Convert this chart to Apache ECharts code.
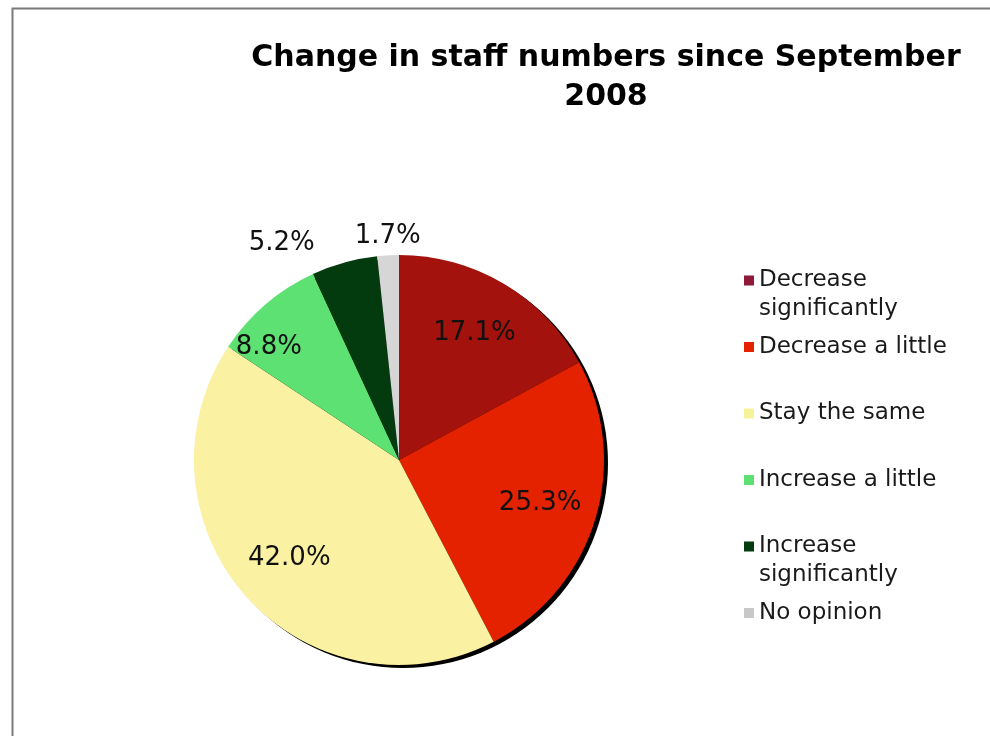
<!DOCTYPE html>
<html>
<head>
<meta charset="utf-8">
<title>Change in staff numbers since September 2008</title>
<script src="https://cdn.jsdelivr.net/npm/echarts@6/dist/echarts.min.js"></script>
<style>
	html, body { margin: 0; padding: 0; background: #fff; }
	#chart { width: 990px; height: 736px; }
</style>
</head>
<body>
<div id="chart"></div>
<script>
// 数据
const categories = [
	"Decrease significantly",
	"Decrease a little",
	"Stay the same",
	"Increase a little",
	"Increase significantly",
	"No opinion",
];
const values = [17.1, 25.3, 42.0, 8.8, 5.2, 1.7];
const colors = ["#a3120c", "#e52200", "#fbf1a2", "#5ee173", "#033b0e", "#d6d6d6"];
const legendColors = ["#8e1a38", "#e52200", "#f6f29a", "#5ee173", "#033b0e", "#c8c8c8"];
// legend label text (line breaks as in picture)
const legendTexts = [
	"Decrease\nsignificantly",
	"Decrease a little",
	"Stay the same",
	"Increase a little",
	"Increase\nsignificantly",
	"No opinion",
];

const CX = 399, CY = 460, R = 205;
const FONT = "DejaVu Sans, Verdana, sans-serif";

const total = values.reduce((a, b) => a + b, 0);

// 标签位置，按扇区中心角计算
function labelPos(idx) {
	let before = 0;
	for (let i = 0; i < idx; i++) before += values[i];
	const mid = ((before + values[idx] / 2) / total) * Math.PI * 2;
	const s = Math.sin(mid), c = Math.cos(mid);
	if (values[idx] < 6) {
		const rr = R + 6;
		return {
			x: CX + rr * s + (s < -0.1 ? -28 : 0),
			y: CY - rr * c,
			align: s < -0.1 ? "right" : "center",
			verticalAlign: "bottom",
		};
	}
	if (values[idx] < 10) {
		// small inside slice, Excel pushes it out and round a bit
		const rr = R * 0.84;
		return { x: CX + rr * s - 18, y: CY - rr * c + 18, align: "center", verticalAlign: "middle" };
	}
	const rr = R * 0.72;
	return { x: CX + rr * s, y: CY - rr * c, align: "center", verticalAlign: "middle" };
}

// 图例: 两行的项目，方块要对齐第一行
const twoLineIcon = "path://M0,0L10,0L10,10L0,10Z M0,39L0.01,39";

function getLegends() {
	return categories.map((name, i) => {
		const twoLines = legendTexts[i].indexOf("\n") >= 0;
		return {
			orient: "vertical",
			left: 744,
			top: 266 + i * 66.5,
			padding: 0,
			itemWidth: 10,
			itemHeight: twoLines ? 39 : 10,
			itemGap: 0,
			icon: twoLines ? twoLineIcon : "rect",
			selectedMode: false,
			data: [{ name: name, itemStyle: { color: legendColors[i] } }],
			formatter: () => legendTexts[i],
			textStyle: { fontFamily: FONT, fontSize: 23, color: "#1a1a1a", lineHeight: 29 },
		};
	});
}

const myChart = echarts.init(document.getElementById("chart"));
myChart.setOption({
	animation: false,
	backgroundColor: "#fff",
	title: {
		text: "Change in staff numbers since September\n2008",
		left: 601,
		top: 34,
		textAlign: "center",
		textStyle: { fontFamily: FONT, fontWeight: "bold", fontSize: 30, lineHeight: 39, color: "#000" },
	},
	graphic: [
		{
			type: "rect",
			left: 10,
			top: 6,
			shape: { width: 1000, height: 760 },
			style: { fill: "none", stroke: "#7a7a7a", lineWidth: 2 },
			silent: true,
		},
	],
	legend: getLegends(),
	series: [
		{
			// 阴影
			type: "pie",
			silent: true,
			center: [CX + 4, CY + 3],
			radius: R,
			startAngle: 90,
			label: { show: false },
			labelLine: { show: false },
			itemStyle: { color: "#000" },
			data: [{ name: "_shadow", value: total }],
			z: 1,
		},
		{
			type: "pie",
			center: [CX, CY],
			radius: R,
			startAngle: 90,
			clockwise: true,
			avoidLabelOverlap: false,
			data: categories.map((name, i) => ({ name, value: values[i], itemStyle: { color: colors[i] } })),
			label: {
				show: true,
				position: "inside",
				formatter: p => p.value.toFixed(1) + "%",
				fontFamily: FONT,
				fontSize: 26,
				color: "#111",
			},
			labelLine: { show: false },
			labelLayout: p => labelPos(p.dataIndex),
			emphasis: { disabled: true },
			z: 2,
		},
	],
});

window.onresize = function () {
	myChart.resize();
};
</script>
</body>
</html>
